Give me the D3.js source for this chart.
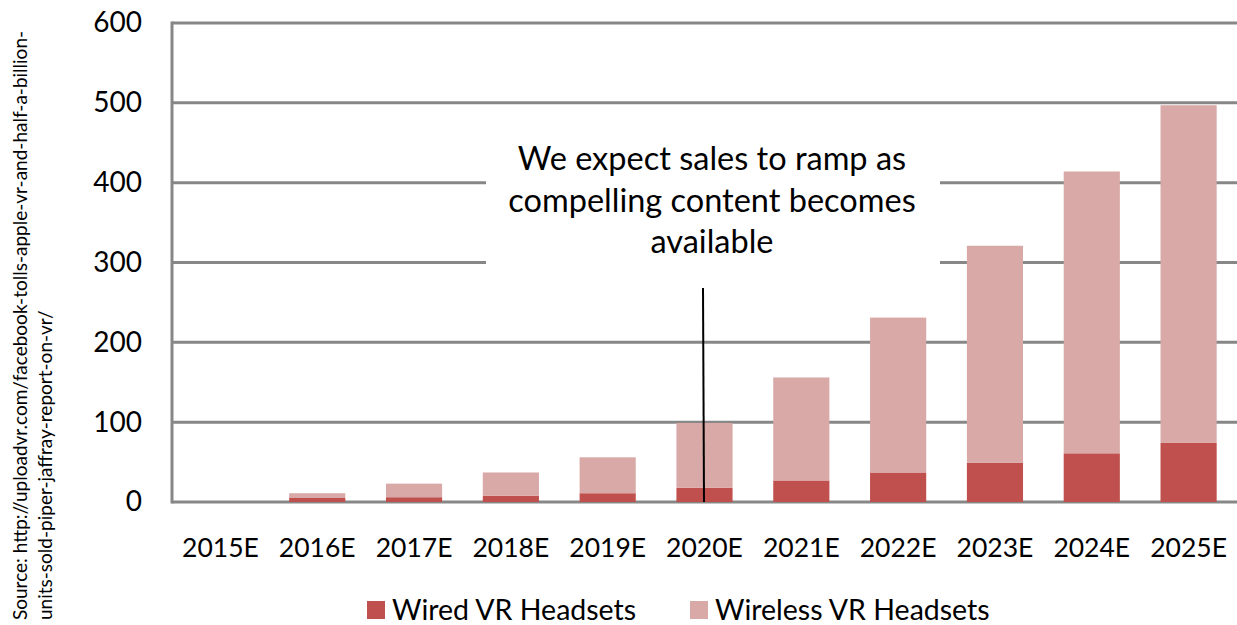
<!DOCTYPE html>
<html><head><meta charset="utf-8">
<script src="https://cdn.jsdelivr.net/npm/d3@7"></script>
<style>body{margin:0;background:#fff}svg{display:block}text{font-family:Lato,sans-serif}</style>
</head><body><svg id="c" width="1237" height="625"></svg>
<script>
const categories = ["2015E","2016E","2017E","2018E","2019E","2020E","2021E","2022E","2023E","2024E","2025E"];
const wired    = [0, 5, 6, 8, 11, 18, 27, 37, 49, 61, 74];
const wireless = [0, 6, 17, 29, 45, 81, 129, 194, 272, 353, 423];
const yTicks = [0, 100, 200, 300, 400, 500, 600];
const seriesNames = ["Wired VR Headsets", "Wireless VR Headsets"];
const colors = ["#C0504D", "#D9A9A8"];
const annotationLines = ["We expect sales to ramp as", "compelling content becomes", "available"];
const sourceLines = ["Source: http://uploadvr.com/facebook-tolls-apple-vr-and-half-a-billion-", "units-sold-piper-jaffray-report-on-vr/"];

const FONT = "Lato,sans-serif";
const svg = d3.select("#c");
const L = 172, R = 1237, T = 23, B = 502;
const x = d3.scaleBand().domain(categories).range([L, R]).paddingInner(0.42).paddingOuter(0.21);
const y = d3.scaleLinear().domain([0, 600]).range([B, T]);

// gridlines
svg.append("g").selectAll("line").data(yTicks).join("line")
  .attr("x1", L).attr("x2", R).attr("y1", d => y(d)).attr("y2", d => y(d))
  .attr("stroke", "#878787").attr("stroke-width", 3);
svg.append("line").attr("x1", L).attr("x2", L).attr("y1", T - 1.5).attr("y2", B + 1.5)
  .attr("stroke", "#878787").attr("stroke-width", 3);

// y labels
const yAxis = d3.axisLeft(y).tickValues(yTicks).tickSize(0).tickPadding(0);
const gy = svg.append("g").attr("transform", `translate(${L - 30},0)`).call(yAxis);
gy.select(".domain").remove();
gy.selectAll("text").attr("font-size", 28).attr("fill", "#000").attr("font-family", FONT);

// bars
const stackData = categories.map((c, i) => ({cat: c, wired: wired[i], wireless: wireless[i]}));
const stack = d3.stack().keys(["wired", "wireless"])(stackData);
svg.append("g").selectAll("g").data(stack).join("g").attr("fill", (d, i) => colors[i])
  .selectAll("rect").data(d => d).join("rect")
  .attr("x", d => x(d.data.cat)).attr("width", x.bandwidth())
  .attr("y", d => y(d[1])).attr("height", d => y(d[0]) - y(d[1]));

// x labels
const xAxis = d3.axisBottom(x).tickSize(0).tickPadding(0);
const gx = svg.append("g").attr("transform", `translate(0,${B + 46})`).call(xAxis);
gx.select(".domain").remove();
gx.selectAll("text").attr("font-size", 26.5).attr("fill", "#000").attr("dy", "0.35em").attr("font-family", FONT);

// annotation
svg.append("rect").attr("x", 486).attr("y", 140).attr("width", 454).attr("height", 128).attr("fill", "#fff");
svg.append("g").selectAll("text").data(annotationLines).join("text")
  .attr("x", 712).attr("y", (d, i) => 170 + i * 41.5).attr("text-anchor", "middle")
  .attr("font-size", 32.5).attr("fill", "#000").text(d => d);
svg.append("line").attr("x1", 703).attr("x2", 704).attr("y1", 288).attr("y2", B)
  .attr("stroke", "#000").attr("stroke-width", 2);

// legend
const lg = svg.append("g");
const legendX = [367, 690];
seriesNames.forEach((n, i) => {
  lg.append("rect").attr("x", legendX[i]).attr("y", 601).attr("width", 18).attr("height", 18).attr("fill", colors[i]);
  lg.append("text").attr("x", legendX[i] + 25).attr("y", 620).attr("font-size", 28.5).attr("fill", "#000").text(n);
});

// source
svg.append("g").selectAll("text").data(sourceLines).join("text")
  .attr("transform", (d, i) => `translate(${27 + i * 25},620) rotate(-90)`)
  .attr("font-size", 19).attr("fill", "#000").text(d => d);
</script></body></html>
